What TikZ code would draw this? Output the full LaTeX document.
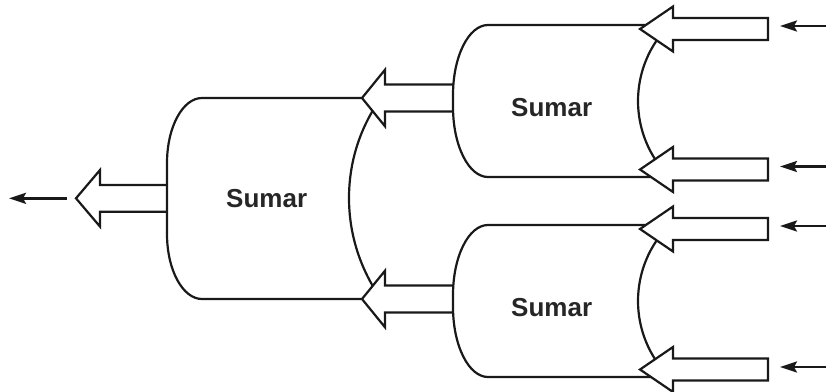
\documentclass[tikz,border=0pt]{standalone}
\usepackage{fontspec}
\setmainfont{Liberation Sans}
\usetikzlibrary{arrows.meta}
\tikzset{
  sumshape/.style={draw=black!90, line width=2.2pt, fill=white},
  barrowstyle/.style={draw=black!90, line width=2.2pt, fill=white, line join=miter},
  thinarrow/.style={draw=black!90, line width=2.4pt, -{Stealth[length=17pt,width=11pt,inset=3pt]}},
  sumlabel/.style={inner sep=0pt, font=\fontsize{26}{30}\selectfont\bfseries, text=black!85}
}
% block arrow: tip x, tip y, head length, head half height, shaft half height, shaft end x
\newcommand{\blockarr}[6]{%
  \filldraw[barrowstyle] (#1,#2) -- ++(#3,-#4) -- ++(0,#4-#5) -- (#6,#2-#5)
    -- (#6,#2+#5) -- (#1+#3,#2+#5) -- ++(0,#4-#5) -- cycle;}
\begin{document}
\begin{tikzpicture}[x=1pt,y=-1pt]
\useasboundingbox (0,0) rectangle (826,391);
% output arrow of big adder
\blockarr{76}{198.3}{24}{28.3}{13.4}{170}
% big adder
\path[sumshape] (202,98) -- (381,98) .. controls (360,127.3) and (349,161.9) .. (349,198)
  .. controls (349,234.1) and (360,268.7) .. (381,299) -- (202,299)
  .. controls (182.7,299) and (167,269.9) .. (167,234) -- (167,163)
  .. controls (167,127.1) and (182.7,98) .. cycle;
\node[sumlabel] (s1) at (266.7,198.3) {Sumar};
% outputs of small adders into big adder
\blockarr{362}{98}{23}{28.3}{13.5}{456}
\blockarr{362}{299}{23}{28.3}{13.5}{456}
% small adders
\foreach \dy/\nm in {0/s2,200/s3}{
  \begin{scope}[shift={(0,\dy)}]
  \path[sumshape] (488,25) -- (669.5,25) .. controls (649.3,45.1) and (638,72.5) .. (638,101)
    .. controls (638,129.5) and (649.3,156.9) .. (669.5,177) -- (488,177)
    .. controls (468.7,177) and (453,145.7) .. (453,107) -- (453,95)
    .. controls (453,56.3) and (468.7,25) .. cycle;
  \node[sumlabel] (\nm) at (551.7,108) {Sumar};
  \blockarr{640}{29}{33}{22.5}{11}{768}
  \blockarr{640}{169.5}{33}{22.5}{11}{768}
  \end{scope}
}
% thin arrows
\coordinate (o1) at (67,198.3);
\coordinate (o2) at (9,198.3);
\draw[thinarrow] (o1) -- (o2);
\foreach \y [count=\i] in {26,166.5,226,367}{
  \coordinate (ia\i) at (826,\y);
  \coordinate (ib\i) at (780,\y);
  \draw[thinarrow] (ia\i) -- (ib\i);
}
\end{tikzpicture}
\end{document}
